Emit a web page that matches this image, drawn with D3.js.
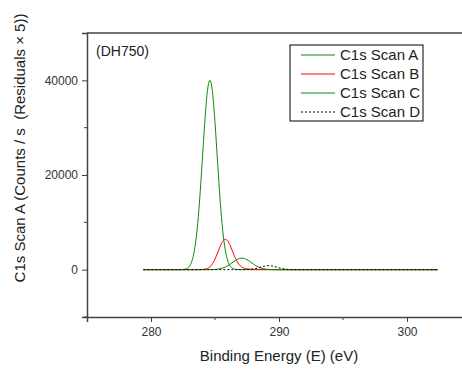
<!DOCTYPE html>
<html>
<head>
<meta charset="utf-8">
<script src="https://cdn.jsdelivr.net/npm/d3@7"></script>
<style>
  body { margin: 0; background: #fff; }
  svg { display: block; font-family: Arial, "Liberation Sans", sans-serif; }
</style>
</head>
<body>
<div id="chart"></div>
<script>
// binding energy grid (eV)
const energy = [279.4, 280, 281, 282,
  282.4, 282.6, 282.8, 283.0, 283.2, 283.4, 283.6, 283.8, 284.0, 284.2, 284.4,
  284.6, 284.8, 285.0, 285.2, 285.4, 285.6, 285.8, 286.0, 286.2, 286.4,
  286.6, 286.8, 287.0, 287.2, 287.4, 287.6, 287.8, 288.0, 288.2, 288.4,
  288.6, 288.8, 289.0, 289.2, 289.4, 289.6, 289.8, 290.0, 290.2, 290.4,
  290.6, 290.8, 291.0, 292, 294, 296, 298, 300, 302.4];

const scanA = [0, 0, 0, 0,
  20, 80, 250, 720, 1850, 4200, 8350, 14700, 22800, 31100, 37600,
  40000, 37600, 31100, 22800, 14700, 8350, 4200, 1850, 720, 250,
  80, 20, 0, 0, 0, 0, 0, 0, 0, 0,
  0, 0, 0, 0, 0, 0, 0, 0, 0, 0,
  0, 0, 0, 0, 0, 0, 0, 0, 0];

const scanB = [0, 0, 0, 0,
  0, 0, 0, 0, 0, 0, 0, 10, 30, 90, 250,
  590, 1230, 2220, 3530, 4910, 5990, 6400, 6050, 5000, 3650,
  2400, 1400, 750, 400, 220, 130, 80, 50, 35, 25,
  18, 12, 8, 5, 0, 0, 0, 0, 0, 0,
  0, 0, 0, 0, 0, 0, 0, 0, 0];

const scanC = [0, 0, 0, 0,
  0, 0, 0, 0, 0, 0, 0, 0, 0, 0, 4,
  10, 22, 49, 99, 188, 331, 545, 836, 1193, 1585,
  1962, 2262, 2428, 2428, 2262, 1962, 1585, 1193, 836, 545,
  331, 188, 99, 49, 22, 10, 4, 0, 0, 0,
  0, 0, 0, 0, 0, 0, 0, 0, 0];

const scanD = [0, 0, 0, 0,
  0, 0, 0, 0, 0, 0, 0, 0, 0, 0, 0,
  0, 0, 0, 0, 0, 0, 0, 0, 0, 0,
  0, 0, 0, 8, 18, 41, 85, 155, 260, 400,
  555, 700, 810, 850, 810, 700, 555, 400, 260, 155,
  85, 41, 18, 0, 0, 0, 0, 0, 0];

const seriesNames = ["C1s Scan A", "C1s Scan B", "C1s Scan C", "C1s Scan D"];
const xTicks = [280, 290, 300];
const xMinor = [285, 295];
const yTicks = [0, 20000, 40000];
const yMinor = [-10000, 10000, 30000];

const width = 462, height = 369;
const margin = {top: 33, right: -9, bottom: 52, left: 87};

const svg = d3.select("#chart").append("svg")
    .attr("width", width)
    .attr("height", height);

const x = d3.scaleLinear()
    .domain([275, 305])
    .range([margin.left, width - margin.right]);

const y = d3.scaleLinear()
    .domain([-10000, 50000])
    .range([height - margin.bottom, margin.top]);

const series = [
  {name: seriesNames[0], values: scanA, color: "#0a8a0a", dash: null},
  {name: seriesNames[1], values: scanB, color: "#ff0000", dash: null},
  {name: seriesNames[2], values: scanC, color: "#0a8a0a", dash: null},
  {name: seriesNames[3], values: scanD, color: "#000", dash: "2,2"}
];

const line = d3.line()
    .x((d, i) => x(energy[i]))
    .y(d => y(d))
    .curve(d3.curveMonotoneX);

svg.append("g").selectAll("path")
  .data(series)
  .join("path")
    .attr("fill", "none")
    .attr("stroke", d => d.color)
    .attr("stroke-width", 1)
    .attr("stroke-dasharray", d => d.dash)
    .attr("d", d => line(d.values));

// axes
const axisColor = "#444";
const xAxis = svg.append("g")
    .attr("transform", `translate(0,${height - margin.bottom})`)
    .call(d3.axisBottom(x).tickValues(xTicks).tickSize(5).tickPadding(5).tickFormat(d3.format("d")));
xAxis.append("g").selectAll("line")
  .data(xMinor).join("line")
    .attr("x1", d => x(d)).attr("x2", d => x(d))
    .attr("y1", 0).attr("y2", 3)
    .attr("stroke", axisColor);

const yAxis = svg.append("g")
    .attr("transform", `translate(${margin.left},0)`)
    .call(d3.axisLeft(y).tickValues(yTicks).tickSize(5).tickPadding(4).tickFormat(d3.format("d")));
yAxis.append("g").selectAll("line")
  .data(yMinor).join("line")
    .attr("y1", d => y(d)).attr("y2", d => y(d))
    .attr("x1", 0).attr("x2", -3)
    .attr("stroke", axisColor);

svg.append("line")
    .attr("x1", margin.left).attr("x2", width - margin.right)
    .attr("y1", margin.top).attr("y2", margin.top)
    .attr("stroke", axisColor).attr("stroke-width", 1.5);

[xAxis, yAxis].forEach(g => {
  g.select(".domain").attr("stroke", axisColor).attr("stroke-width", 1.5);
  g.selectAll(".tick line").attr("stroke", axisColor);
  g.selectAll(".tick text").attr("fill", "#333").style("font-size", "12px")
    .style("font-family", "Arial, 'Liberation Sans', sans-serif");
});

// titles
svg.append("text")
    .attr("x", x(290))
    .attr("y", 361)
    .attr("text-anchor", "middle")
    .style("font-size", "15px")
    .attr("fill", "#222")
    .text("Binding Energy (E) (eV)");

svg.append("text")
    .attr("transform", `translate(25,148) rotate(-90)`)
    .attr("text-anchor", "middle")
    .style("font-size", "15px")
    .attr("fill", "#222")
    .attr("xml:space", "preserve")
    .style("white-space", "pre")
    .text("C1s Scan A (Counts / s  (Residuals × 5))");

svg.append("text")
    .attr("x", 96)
    .attr("y", 56)
    .style("font-size", "14px")
    .attr("fill", "#222")
    .text("(DH750)");

// legend
const legend = svg.append("g").attr("transform", "translate(290,45)");
legend.append("rect")
    .attr("width", 133).attr("height", 76)
    .attr("fill", "#fff").attr("stroke", "#000").attr("stroke-width", 1);
const item = legend.selectAll("g.item")
  .data(series)
  .join("g")
    .attr("class", "item")
    .attr("transform", (d, i) => `translate(0,${10 + i * 19})`);
item.append("line")
    .attr("x1", 11).attr("x2", 45)
    .attr("stroke", d => d.color)
    .attr("stroke-dasharray", d => d.dash);
item.append("text")
    .attr("x", 50).attr("dy", "0.36em")
    .style("font-size", "15px")
    .attr("fill", "#222")
    .text(d => d.name);
</script>
</body>
</html>
